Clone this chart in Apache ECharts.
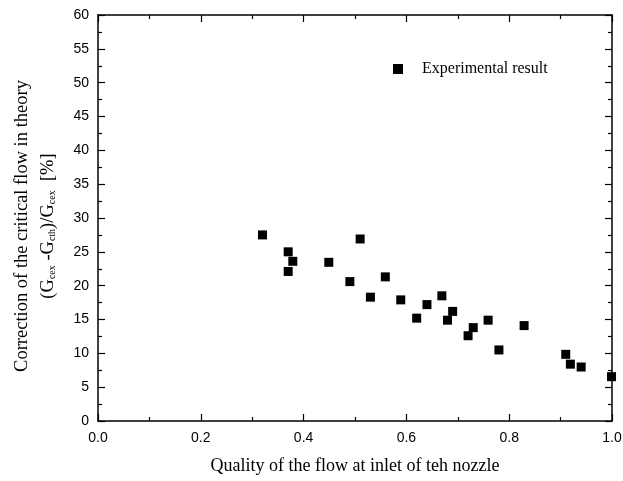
<!DOCTYPE html>
<html><head><meta charset="utf-8">
<script src="https://cdn.jsdelivr.net/npm/echarts@6/dist/echarts.min.js"></script>
<style>html,body{margin:0;padding:0;background:#fff}#c{width:623px;height:481px}</style>
</head><body><div id="c"></div>
<script>
const quality = [0.32,0.37,0.379,0.37,0.449,0.51,0.49,0.53,0.559,0.589,0.64,0.62,0.669,0.69,0.68,0.73,0.72,0.759,0.829,0.78,0.91,0.919,0.94,0.999];
const correction = [27.5,25.0,23.6,22.1,23.45,26.9,20.6,18.3,21.3,17.9,17.2,15.2,18.5,16.2,14.9,13.8,12.6,14.9,14.1,10.5,9.85,8.4,7.98,6.55];
const seriesName = 'Experimental result';
const xTitle = 'Quality of the flow at inlet of teh nozzle';

const pts = quality.map((q,i)=>[q, correction[i]]);
const chart = echarts.init(document.getElementById('c'), null, {renderer:'canvas'});
const axisLine = {show:true, onZero:false, lineStyle:{color:'#000', width:1.5}};
const tick = {show:true, inside:true, length:7, lineStyle:{color:'#000', width:1.2}};
const minor = {show:true, splitNumber:2, length:4, lineStyle:{color:'#000', width:1.2}};
const tickFont = {fontFamily:'Liberation Sans, Arial, sans-serif', fontSize:14, color:'#000'};
const serif = 'Liberation Serif, Times New Roman, serif';
chart.setOption({
  animation:false,
  grid:{left:98, right:11, top:15, bottom:60, containLabel:false, outerBoundsMode:'none'},
  legend:{
    left:388, top:56, itemWidth:10, itemHeight:10, itemGap:0,
    textStyle:{fontFamily:serif, fontSize:16, color:'#000', padding:[0,0,0,14]},
    data:[{name:seriesName, icon:'rect'}]
  },
  xAxis:[{
    type:'value', min:0, max:1, interval:0.2,
    axisLine, axisTick:tick, minorTick:minor,
    splitLine:{show:false},
    axisLabel:Object.assign({margin:10, formatter:v=>v.toFixed(1)}, tickFont),
    name:xTitle, nameLocation:'middle', nameGap:36,
    nameTextStyle:{fontFamily:serif, fontSize:18, color:'#000'}
  },{
    type:'value', position:'top', min:0, max:1, interval:0.2,
    axisLine, axisTick:tick, minorTick:minor,
    splitLine:{show:false}, axisLabel:{show:false}
  }],
  yAxis:[{
    type:'value', min:0, max:60, interval:5,
    axisLine, axisTick:tick, minorTick:minor,
    splitLine:{show:false},
    axisLabel:Object.assign({margin:9}, tickFont),
    name:'{t|Correction of the critical flow in theory}\n{t|(G}{s|cex}{t| -G}{s|cth}{t|)/G}{s|cex}{t|  [%]}',
    nameLocation:'middle', nameGap:37, nameRotate:90,
    nameTextStyle:{
      padding:[0,16,0,0],
      rich:{
        t:{fontFamily:serif, fontSize:18.5, color:'#000', lineHeight:26},
        s:{fontFamily:serif, fontSize:10, color:'#000', lineHeight:26, padding:[9,0,0,0]}
      }
    }
  },{
    type:'value', position:'right', min:0, max:60, interval:5,
    axisLine, axisTick:tick, minorTick:minor,
    splitLine:{show:false}, axisLabel:{show:false}
  }],
  series:[{
    name:seriesName, type:'scatter', symbol:'rect', symbolSize:9, clip:false,
    itemStyle:{color:'#000', opacity:1}, data:pts
  }]
});
</script></body></html>
